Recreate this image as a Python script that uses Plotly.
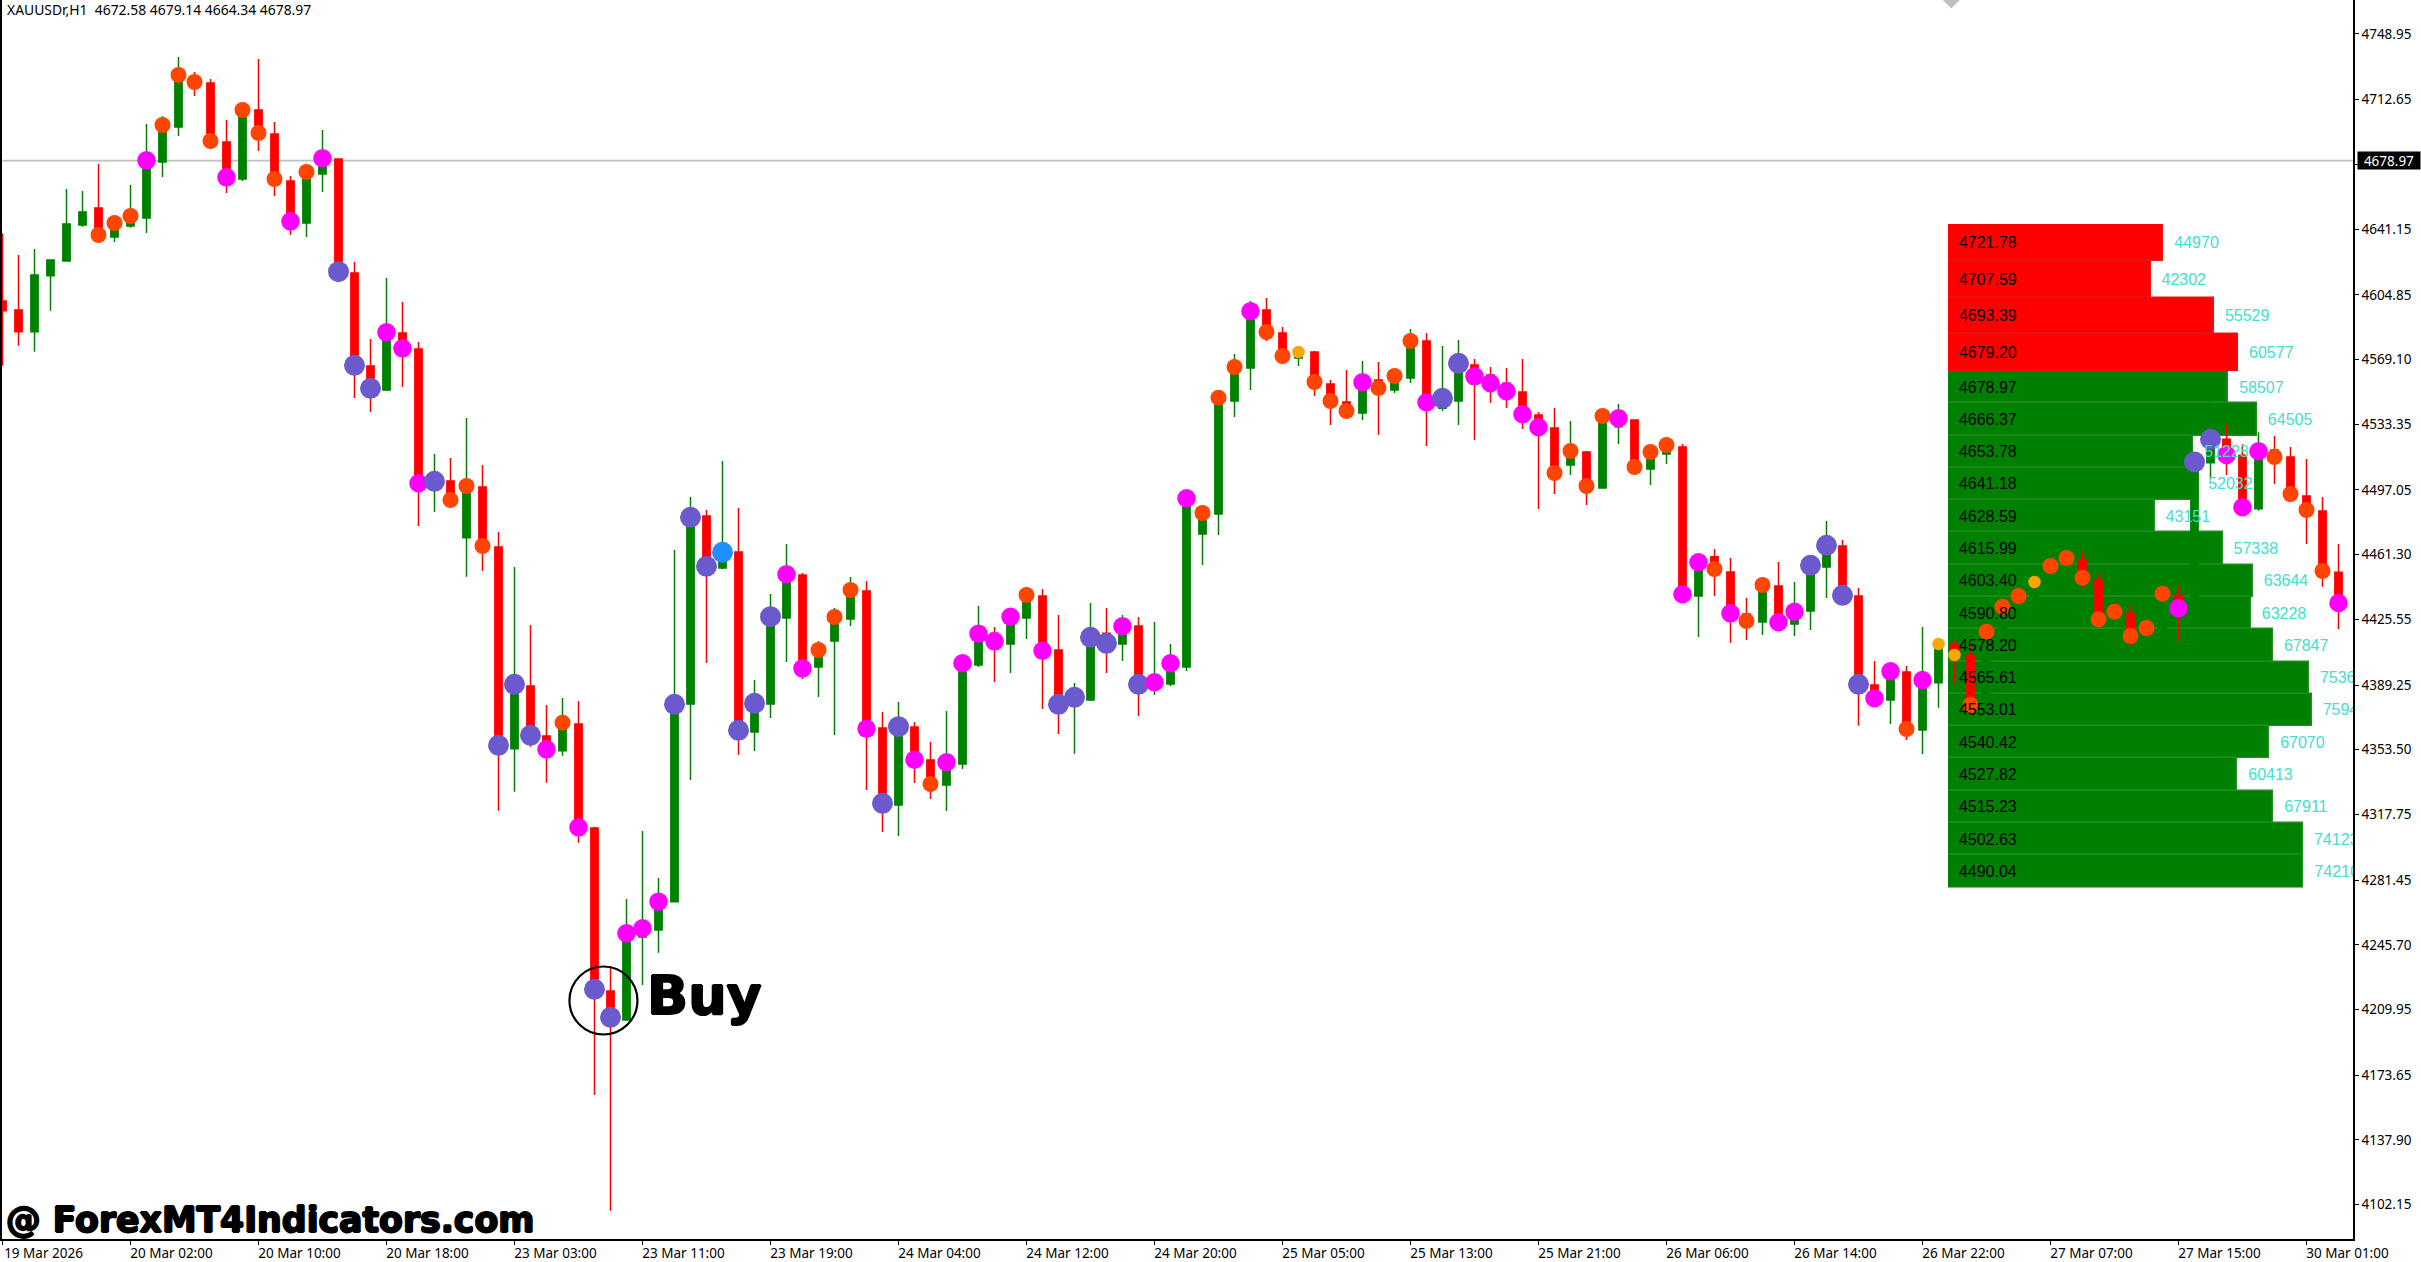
import plotly.graph_objects as go

W = 2421
H = 1262

# XAUUSDr H1 candles
opens = [
    4601.42, 4596.45, 4584.48, 4615.42, 4623.53, 4643.42, 4652.81, 4636.79, 4642.86, 4647.28,
    4678.22, 4697.56, 4725.74, 4721.87, 4689.27, 4668.83, 4706.95, 4693.69, 4667.73, 4644.52,
    4671.59, 4679.88, 4616.89, 4565.51, 4552.25, 4583.74, 4574.90, 4498.85, 4501.98, 4470.67,
    4498.66, 4465.51, 4354.09, 4388.71, 4361.09, 4352.98, 4367.72, 4310.26, 4220.20, 4204.18,
    4250.00, 4253.90, 4269.56, 4378.77, 4482.64, 4453.91, 4462.75, 4363.30, 4378.77, 4426.28,
    4450.04, 4399.21, 4413.58, 4425.73, 4441.20, 4365.51, 4322.96, 4366.06, 4347.83, 4334.01,
    4345.62, 4400.32, 4417.81, 4411.92, 4426.28, 4438.44, 4408.60, 4378.21, 4380.98, 4417.81,
    4411.92, 4421.86, 4388.34, 4389.82, 4399.21, 4472.69, 4483.74, 4546.18, 4564.41, 4596.45,
    4583.75, 4569.93, 4573.25, 4555.57, 4545.62, 4539.55, 4557.78, 4552.25, 4558.88, 4579.33,
    4542.12, 4546.18, 4566.07, 4560.54, 4555.94, 4551.15, 4538.44, 4531.26, 4510.82, 4518.00,
    4498.11, 4532.00, 4535.68, 4508.61, 4516.89, 4520.76, 4438.44, 4460.17, 4451.70, 4428.49,
    4424.07, 4443.96, 4422.97, 4430.15, 4454.46, 4466.06, 4438.44, 4389.26, 4380.97, 4396.45,
    4364.40, 4390.55, 4411.92, 4405.66, 4383.74, 4418.73, 4432.55, 4437.15, 4446.17, 4455.01,
    4458.70, 4447.28, 4425.18, 4428.86, 4416.34, 4419.29, 4438.81, 4437.15, 4512.10, 4524.99,
    4516.16, 4486.69, 4519.10, 4515.23, 4493.69, 4485.40, 4451.52,
]
highs = [
    4638.81, 4626.84, 4630.16, 4624.08, 4663.31, 4662.20, 4677.12, 4646.00, 4665.52, 4699.22,
    4703.64, 4736.24, 4727.95, 4724.08, 4701.43, 4708.43, 4735.13, 4700.32, 4670.49, 4673.80,
    4695.90, 4679.88, 4622.97, 4580.43, 4614.13, 4600.87, 4578.77, 4516.89, 4514.68, 4536.78,
    4510.82, 4473.80, 4454.46, 4422.42, 4378.21, 4382.08, 4380.42, 4310.99, 4234.01, 4271.03,
    4308.60, 4282.63, 4463.85, 4493.14, 4485.95, 4513.03, 4487.06, 4392.03, 4439.54, 4467.17,
    4451.15, 4413.58, 4431.81, 4448.94, 4446.73, 4374.35, 4379.87, 4368.82, 4357.77, 4374.90,
    4402.70, 4432.91, 4421.31, 4430.70, 4441.75, 4442.31, 4427.94, 4390.37, 4434.57, 4431.81,
    4427.94, 4426.84, 4424.07, 4411.92, 4494.00, 4486.00, 4549.50, 4572.14, 4601.43, 4603.08,
    4587.06, 4573.25, 4573.80, 4557.78, 4563.30, 4568.28, 4567.72, 4559.99, 4585.96, 4583.75,
    4576.56, 4579.88, 4569.38, 4564.96, 4564.41, 4569.38, 4540.10, 4542.31, 4535.13, 4518.55,
    4539.00, 4544.52, 4535.68, 4518.00, 4521.87, 4522.42, 4457.04, 4464.40, 4459.43, 4437.33,
    4444.51, 4457.22, 4446.17, 4455.38, 4479.88, 4469.38, 4442.86, 4402.52, 4396.81, 4399.76,
    4421.31, 4411.92, 4414.50, 4411.37, 4420.50, 4434.00, 4440.00, 4447.00, 4473.96, 4473.96,
    4463.12, 4450.96, 4438.07, 4433.28, 4422.00, 4441.00, 4444.33, 4513.50, 4545.81, 4533.47,
    4522.23, 4528.86, 4526.84, 4520.76, 4514.13, 4493.13, 4467.17,
]
lows = [
    4565.70, 4576.75, 4573.43, 4596.08, 4623.53, 4642.49, 4634.76, 4634.02, 4641.94, 4638.99,
    4669.94, 4692.59, 4714.69, 4686.70, 4661.10, 4667.73, 4684.30, 4659.44, 4637.89, 4636.79,
    4661.65, 4617.63, 4547.83, 4540.10, 4551.70, 4553.91, 4477.11, 4484.85, 4488.16, 4449.12,
    4452.25, 4319.83, 4330.33, 4355.19, 4335.30, 4350.22, 4302.16, 4162.74, 4098.83, 4204.18,
    4223.52, 4241.38, 4269.56, 4336.78, 4401.42, 4453.35, 4350.59, 4352.80, 4371.03, 4401.97,
    4392.58, 4382.63, 4361.64, 4421.86, 4331.25, 4308.05, 4305.84, 4335.12, 4326.28, 4319.65,
    4342.85, 4399.21, 4390.92, 4395.89, 4414.68, 4376.00, 4362.19, 4351.33, 4380.42, 4395.89,
    4402.53, 4372.14, 4383.74, 4388.71, 4397.00, 4455.57, 4472.14, 4537.34, 4552.25, 4579.33,
    4566.99, 4565.51, 4548.94, 4532.92, 4536.60, 4535.68, 4527.39, 4550.60, 4556.12, 4521.31,
    4540.65, 4532.92, 4524.63, 4545.07, 4542.31, 4530.70, 4486.51, 4494.79, 4505.29, 4488.72,
    4498.11, 4522.42, 4509.71, 4499.76, 4511.37, 4439.36, 4415.78, 4438.44, 4412.47, 4414.13,
    4416.89, 4420.57, 4416.34, 4419.65, 4437.33, 4438.81, 4366.79, 4380.00, 4367.71, 4358.87,
    4351.14, 4376.74, 4389.82, 4375.45, 4381.90, 4417.80, 4431.50, 4436.50, 4445.00, 4454.00,
    4443.04, 4421.10, 4424.00, 4410.81, 4415.50, 4418.50, 4413.58, 4436.00, 4502.89, 4505.29,
    4483.20, 4485.50, 4500.32, 4491.00, 4467.17, 4443.60, 4420.02,
]
closes = [
    4596.08, 4584.48, 4615.79, 4624.08, 4643.97, 4650.60, 4637.89, 4644.52, 4648.39, 4679.14,
    4698.67, 4726.29, 4722.42, 4689.83, 4669.75, 4706.95, 4694.25, 4668.83, 4645.44, 4672.70,
    4680.25, 4617.63, 4565.88, 4553.17, 4584.11, 4575.27, 4500.69, 4501.79, 4491.48, 4499.21,
    4466.06, 4355.93, 4389.63, 4361.46, 4353.72, 4368.45, 4310.62, 4221.12, 4205.65, 4252.06,
    4254.83, 4269.56, 4378.58, 4481.90, 4454.83, 4462.56, 4364.22, 4379.14, 4427.02, 4450.41,
    4398.47, 4408.60, 4426.84, 4441.75, 4365.14, 4323.88, 4366.24, 4348.01, 4334.57, 4346.54,
    4401.24, 4417.63, 4413.39, 4427.02, 4438.99, 4408.23, 4378.58, 4382.45, 4415.60, 4412.29,
    4421.68, 4389.63, 4390.74, 4401.24, 4492.40, 4484.30, 4548.02, 4564.96, 4595.72, 4584.30,
    4571.04, 4573.25, 4556.67, 4546.18, 4540.65, 4556.49, 4553.36, 4559.99, 4579.33, 4545.44,
    4547.65, 4566.99, 4559.80, 4555.94, 4551.52, 4538.81, 4531.63, 4506.40, 4518.55, 4499.21,
    4537.89, 4536.60, 4509.71, 4518.00, 4521.87, 4439.36, 4457.04, 4453.35, 4428.86, 4424.62,
    4444.51, 4423.89, 4429.78, 4455.38, 4466.43, 4438.81, 4389.63, 4381.90, 4396.81, 4364.96,
    4392.03, 4411.92, 4405.84, 4378.22, 4418.73, 4432.55, 4438.44, 4446.17, 4455.01, 4459.43,
    4448.57, 4425.55, 4429.78, 4416.34, 4420.76, 4439.73, 4431.63, 4512.47, 4524.99, 4516.34,
    4487.43, 4518.37, 4515.23, 4494.79, 4485.95, 4452.25, 4434.57,
]

# dot on each close, one letter per bar (. means no dot)
dot_kinds = (
    "......OOOM"
    "OOOOMOOOMO"
    "MPPPMMMPOO"
    "OPPPMOMPPM"
    "MMPPPBPPPM"
    "MOOOMPPMOM"
    "MMMMOMPPPP"
    "MPMMMOOOMO"
    "OAOOOMOOOM"
    "PPMMMMMOOO"
    "OMOOOMMOMO"
    "OMMPPPPMMO"
    "MAAOOOOAOO"
    "OOOOOOMPPM"
    "MMOOOOM"
)

x_tick_labels = [
    '19 Mar 2026', '20 Mar 02:00', '20 Mar 10:00', '20 Mar 18:00', '23 Mar 03:00',
    '23 Mar 11:00', '23 Mar 19:00', '24 Mar 04:00', '24 Mar 12:00', '24 Mar 20:00',
    '25 Mar 05:00', '25 Mar 13:00', '25 Mar 21:00', '26 Mar 06:00', '26 Mar 14:00',
    '26 Mar 22:00', '27 Mar 07:00', '27 Mar 15:00', '30 Mar 01:00',
]
y_ticks = [
    4748.95, 4712.65, 4676.90, 4641.15, 4604.85, 4569.10, 4533.35, 4497.05, 4461.30, 4425.55,
    4389.25, 4353.50, 4317.75, 4281.45, 4245.70, 4209.95, 4173.65, 4137.90, 4102.15,
]

# volume profile panel
red_levels = ['4721.78', '4707.59', '4693.39', '4679.20']
red_volumes = [44970, 42302, 55529, 60577]
green_levels = [
    '4678.97', '4666.37', '4653.78', '4641.18', '4628.59', '4615.99', '4603.40', '4590.80',
    '4578.20', '4565.61', '4553.01', '4540.42', '4527.82', '4515.23', '4502.63', '4490.04',
]
green_volumes = [
    58507, 64505, 51228, 52032, 43151, 57338, 63644, 63228,
    67847, 75365, 75940, 67070, 60413, 67911, 74123, 74210,
]

header = 'XAUUSDr,H1  4672.58 4679.14 4664.34 4678.97'
last_price = 4678.97
buy_bar = 37.56
buy_price = 4214.95
marker_bar = 121.8

bars = list(range(len(closes)))
dot_bars = [b for b in bars if dot_kinds[b] != '.']
dot_closes = [closes[b] for b in dot_bars]
dot_colors = {'O': '#FF4500', 'M': '#FF00FF', 'P': '#6A5ACD', 'B': '#1E90FF', 'A': '#FFA500'}
dot_sizes = {'O': 16, 'M': 18.5, 'P': 21, 'B': 21, 'A': 12.5}

# pixel edges of the chart and the panel inside the 2421x1262 page
plot_left, plot_right, plot_bottom = 1.5, 2353, 1239
panel_left, panel_top, panel_mid, panel_bottom = 1948, 224, 371, 887.5
text_drop = 1.5
x_dom = [plot_left / W, plot_right / W]
y_dom = [(H - plot_bottom) / H, 1]
panel_x_dom = [panel_left / W, plot_right / W]
red_dom = [(H - panel_mid) / H, (H - panel_top) / H]
green_dom = [(H - panel_bottom) / H, (H - panel_mid) / H]
red_text_dom = [d - text_drop / H for d in red_dom]
green_text_dom = [d - text_drop / H for d in green_dom]
volume_range = [0, 84551]
text_range = [-418, 84133]
red_range = [len(red_levels) - 0.5, -0.5]
green_range = [len(green_levels) - 0.5, -0.5]

fig = go.Figure()

# Profile bars, bottom layer
fig.add_trace(go.Bar(
    name='ask', orientation='h', y=red_levels, x=red_volumes,
    xaxis='x', yaxis='y', width=1,
    marker=dict(color='#FF0000', line=dict(color='#E81414', width=1.5)),
))
fig.add_trace(go.Bar(
    name='bid', orientation='h', y=green_levels, x=green_volumes,
    xaxis='x', yaxis='y2', width=1,
    marker=dict(color='#008000', line=dict(color='#1E8C1E', width=1.5)),
))

# Candlestick Graph
fig.add_trace(go.Candlestick(
    name='', x=bars, open=opens, high=highs, low=lows, close=closes,
    xaxis='x2', yaxis='y3',
    increasing=dict(line=dict(color='#008000', width=1.5), fillcolor='#008000'),
    decreasing=dict(line=dict(color='#FF0000', width=1.5), fillcolor='#FF0000'),
    whiskerwidth=0,
))

fig.add_trace(go.Scatter(
    name='dots', x=dot_bars, y=dot_closes, mode='markers',
    xaxis='x2', yaxis='y3',
    marker=dict(
        color=[dot_colors[dot_kinds[b]] for b in dot_bars],
        size=[dot_sizes[dot_kinds[b]] for b in dot_bars],
        opacity=1,
        line=dict(width=0),
    ),
))

# circle around the buy signal
fig.add_trace(go.Scatter(
    x=[buy_bar], y=[buy_price], mode='markers', xaxis='x2', yaxis='y3',
    marker=dict(symbol='circle-open', size=68, color='black', line=dict(color='black', width=2.2)),
))

# grey marker cut off by the top edge
fig.add_trace(go.Scatter(
    x=[marker_bar], y=[4767.73], mode='markers', xaxis='x2', yaxis='y3',
    marker=dict(symbol='diamond', size=13, color='#C0C0C0'),
))

# Panel texts sit above the candles
label_font = dict(family='Liberation Sans', size=16, color='black')
volume_font = dict(family='Liberation Sans', size=16, color='#40E0D0')
for levels, volumes, axis in [(red_levels, red_volumes, 'y4'), (green_levels, green_volumes, 'y5')]:
    fig.add_trace(go.Scatter(
        x=[0] * len(levels), y=levels, text=['\u00a0\u00a0' + t for t in levels],
        mode='text', textposition='middle right', textfont=label_font,
        xaxis='x3', yaxis=axis,
    ))
    fig.add_trace(go.Scatter(
        x=volumes, y=levels, text=['\u00a0\u00a0' + str(v) for v in volumes],
        mode='text', textposition='middle right', textfont=volume_font,
        xaxis='x3', yaxis=axis,
    ))

hidden = dict(visible=False, fixedrange=True, automargin=False)
heavy = '1px 0 0 black, -1px 0 0 black, 0 1px 0 black, 0 -1px 0 black'

fig.update_layout(
    width=W,
    height=H,
    autosize=False,
    showlegend=False,
    hovermode=False,
    margin=dict(l=0, r=0, t=0, b=0, pad=0),
    paper_bgcolor='white',
    plot_bgcolor='rgba(0,0,0,0)',
    bargap=0,
    barmode='overlay',
    boxgap=0.35,
    font=dict(family='Noto Sans', size=13.5, color='black'),

    xaxis=dict(domain=panel_x_dom, range=volume_range, anchor='y', **hidden),
    yaxis=dict(domain=red_dom, type='category', range=red_range, anchor='x', **hidden),
    yaxis2=dict(domain=green_dom, type='category', range=green_range, anchor='x', **hidden),

    xaxis2=dict(
        domain=x_dom, range=[-0.0625, 146.906], anchor='y3', automargin=False,
        tickmode='array', tickvals=bars[::8], ticktext=x_tick_labels,
        tickangle=0, ticks='outside', ticklen=4, tickcolor='black', tickwidth=1,
        ticklabelshift=41, ticklabelstandoff=-3,
        showgrid=False, zeroline=False, showline=True, linecolor='black', linewidth=1.5,
        rangeslider=dict(visible=False),
    ),
    yaxis3=dict(
        domain=y_dom, range=[4083.18, 4767.73], anchor='x2', side='right', automargin=False,
        tickmode='array', tickvals=y_ticks, ticktext=['%.2f' % v for v in y_ticks],
        ticks='outside', ticklen=4, tickcolor='black', tickwidth=1,
        showgrid=False, zeroline=False, showline=True, mirror=True, linecolor='black', linewidth=1.5,
    ),

    xaxis3=dict(domain=panel_x_dom, range=text_range, anchor='y4', **hidden),
    yaxis4=dict(domain=red_text_dom, type='category', range=red_range, anchor='x3', **hidden),
    yaxis5=dict(domain=green_text_dom, type='category', range=green_range, anchor='x3', **hidden),

    # last price line
    shapes=[dict(
        type='line', layer='below', xref='x2 domain', yref='y3',
        x0=0, x1=1, y0=last_price, y1=last_price,
        line=dict(color='#C0C0C0', width=1.8),
    )],

    annotations=[
        dict(text=header, xref='paper', yref='paper', x=5 / W, y=1 - 10 / H,
             xanchor='left', yanchor='middle', showarrow=False,
             font=dict(family='Noto Sans', size=13.9, color='black')),
        dict(text='%.2f' % last_price, xref='paper', yref='y3', x=2357 / W, y=last_price,
             xanchor='left', yanchor='middle', showarrow=False, bgcolor='black',
             width=62, height=17, borderpad=0, align='center',
             font=dict(family='Noto Sans', size=13.5, color='white')),
        dict(text='<b>Buy</b>', xref='paper', yref='paper', x=645 / W, y=1 - 995 / H,
             xanchor='left', yanchor='middle', showarrow=False,
             font=dict(family='DejaVu Sans', size=54, color='black', shadow=heavy)),
        dict(text='<b>@ ForexMT4Indicators.com</b>', xref='paper', yref='paper', x=4 / W, y=1 - 1220 / H,
             xanchor='left', yanchor='middle', showarrow=False,
             font=dict(family='DejaVu Sans', size=34.7, color='black', shadow=heavy)),
    ],
)

fig.write_html(
    'out.html',
    config=dict(displayModeBar=False),
    post_script="document.body.style.margin='0';document.documentElement.style.overflow='hidden';",
)
